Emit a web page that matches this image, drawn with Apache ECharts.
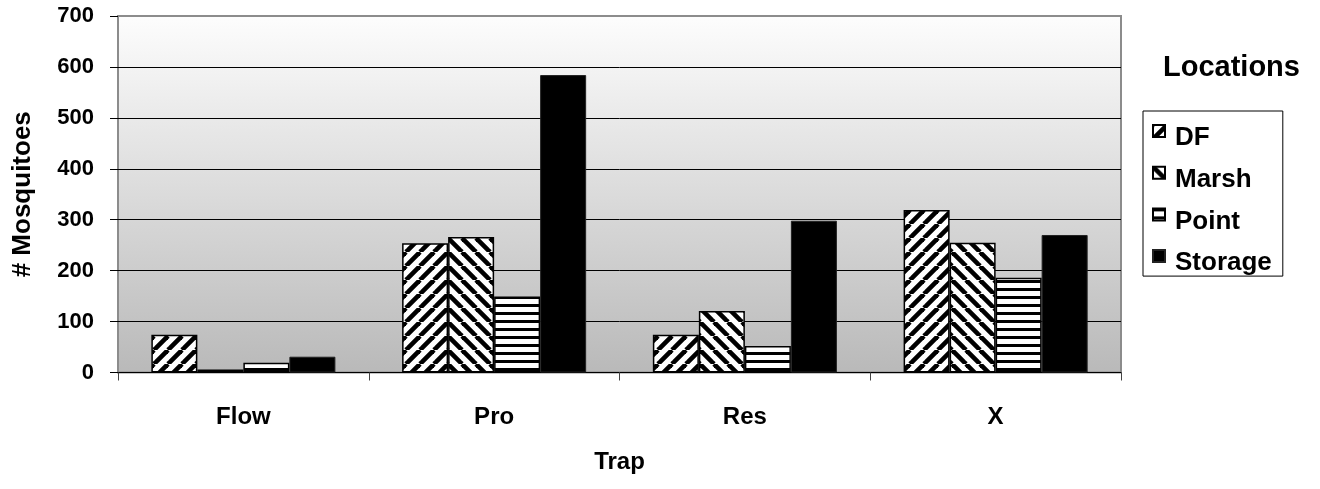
<!DOCTYPE html>
<html>
<head>
<meta charset="utf-8">
<script src="https://cdn.jsdelivr.net/npm/echarts@6/dist/echarts.min.js"></script>
<style>
html,body{margin:0;padding:0;background:#fff;}
#chart{width:1320px;height:489px;}
</style>
</head>
<body>
<div id="chart"></div>
<script>
// ---- data ----
const categories = ['Flow', 'Pro', 'Res', 'X'];
const seriesNames = ['DF', 'Marsh', 'Point', 'Storage'];
const dfValues = [74, 254, 74, 319];
const marshValues = [6, 266, 121, 255];
const pointValues = [19, 149, 52, 186];
const storageValues = [31, 584, 298, 270];
const yTicks = [0, 100, 200, 300, 400, 500, 600, 700];
const xTitle = 'Trap';
const yTitle = '# Mosquitoes';
const legendTitle = 'Locations';

const FONT = '"Liberation Sans", Arial, sans-serif';

function pattern(kind) {
  const c = document.createElement('canvas');
  if (kind === 'h') {
    c.width = 8; c.height = 8;
    const ctx = c.getContext('2d');
    ctx.fillStyle = '#fff'; ctx.fillRect(0, 0, 8, 8);
    ctx.fillStyle = '#000'; ctx.fillRect(0, 0, 8, 3);
  } else {
    const s = 14;
    c.width = s; c.height = s;
    const ctx = c.getContext('2d');
    ctx.fillStyle = '#fff'; ctx.fillRect(0, 0, s, s);
    ctx.strokeStyle = '#000'; ctx.lineWidth = 4.6;
    for (const k of [-s, 0, s]) {
      ctx.beginPath();
      if (kind === 'up') { ctx.moveTo(k, s); ctx.lineTo(k + s, 0); }
      else { ctx.moveTo(k, 0); ctx.lineTo(k + s, s); }
      ctx.stroke();
    }
  }
  return { image: c, repeat: 'repeat' };
}

const fills = [pattern('up'), pattern('down'), pattern('h'), '#000'];
const values = [dfValues, marshValues, pointValues, storageValues];

const chart = echarts.init(document.getElementById('chart'));
chart.setOption({
  animation: false,
  backgroundColor: '#fff',
  title: {
    text: legendTitle, left: 1163, top: 53, padding: 0,
    textStyle: { fontFamily: FONT, fontSize: 29, fontWeight: 'bold', color: '#000' }
  },
  legend: {
    orient: 'vertical', left: 1143, top: 111,
    padding: [13, 11, 0, 9], itemWidth: 12, itemHeight: 12, itemGap: 14.7,
    borderColor: '#000', borderWidth: 1,
    icon: 'rect',
    data: seriesNames,
    formatter: name => '{t|' + name + '}',
    textStyle: {
      fontFamily: FONT, fontSize: 26, fontWeight: 'bold', color: '#000',
      rich: { t: { fontFamily: FONT, fontSize: 26, fontWeight: 'bold', color: '#000', padding: [14, 0, 0, 5] } }
    }
  },
  grid: {
    left: 118, right: 199, top: 16, bottom: 116.5,
    show: true, borderColor: '#8c8c8c', borderWidth: 2,
    backgroundColor: new echarts.graphic.LinearGradient(0, 0, 0, 1, [
      { offset: 0, color: '#fdfdfd' }, { offset: 1, color: '#b9b9b9' }
    ])
  },
  xAxis: {
    type: 'category', data: categories,
    name: xTitle, nameLocation: 'middle', nameGap: 78,
    nameTextStyle: { fontFamily: FONT, fontSize: 24, fontWeight: 'bold', color: '#000' },
    axisLine: { show: true, lineStyle: { color: '#000', width: 1 } },
    axisTick: { show: true, alignWithLabel: false, length: 8, lineStyle: { color: '#444' } },
    axisLabel: { margin: 33, fontFamily: FONT, fontSize: 24, fontWeight: 'bold', color: '#000' }
  },
  yAxis: {
    type: 'value', min: yTicks[0], max: yTicks[yTicks.length - 1], interval: yTicks[1] - yTicks[0],
    name: yTitle, nameLocation: 'middle', nameGap: 82,
    nameTextStyle: { fontFamily: FONT, fontSize: 26, fontWeight: 'bold', color: '#000' },
    axisLine: { show: false },
    axisTick: { show: true, length: 8, lineStyle: { color: '#000' } },
    axisLabel: { margin: 24, fontFamily: FONT, fontSize: 22, fontWeight: 'bold', color: '#000' },
    splitLine: { show: true, showMinLine: false, showMaxLine: false, lineStyle: { color: '#000', width: 1 } }
  },
  series: seriesNames.map((n, i) => ({
    name: n, type: 'bar', data: values[i],
    barGap: '0%', barCategoryGap: '26.6%',
    itemStyle: { color: fills[i], borderColor: i === 3 ? '#222' : '#000', borderWidth: i === 3 ? 1 : 1.5 }
  }))
});
</script>
</body>
</html>
